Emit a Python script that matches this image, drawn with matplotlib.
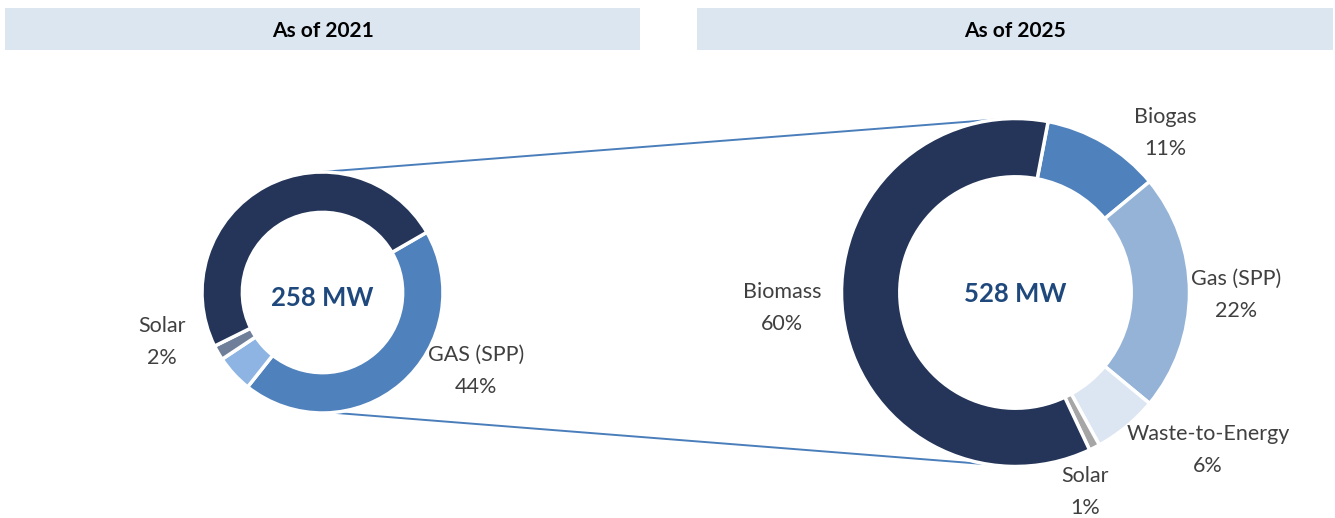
import numpy as np
import matplotlib
matplotlib.use("Agg")
import matplotlib.pyplot as plt
from matplotlib.patches import Rectangle

# ---------------- data ----------------
titles = ["As of 2021", "As of 2025"]
totals = ["258 MW", "528 MW"]

labels_2021 = ["GAS (SPP)", "Biogas", "Solar", "Biomass"]
values_2021 = [44, 5, 2, 49]
colors_2021 = ["#4F81BD", "#8DB4E2", "#6F7F99", "#243559"]
show_2021 = [True, False, True, False]

labels_2025 = ["Biogas", "Gas (SPP)", "Waste-to-Energy", "Solar", "Biomass"]
values_2025 = [11, 22, 6, 1, 60]
colors_2025 = ["#4F81BD", "#95B3D7", "#DCE6F2", "#A6A6A6", "#243559"]

# ---------------- layout (pixel space) ----------------
W, H = 1335, 518
fig = plt.figure(figsize=(W / 100, H / 100), dpi=100)
ax = fig.add_axes([0, 0, 1, 1])

def py(y):  # convert from top-based pixel to data y
    return H - y

c1, r1, start1 = (322.5, py(292.5)), 120.5, 30.0
c2, r2, start2 = (1015.5, py(292.5)), 174.0, 79.2
ring = 0.335

FONT = "Lato"
label_col = "#404040"
LFS = 15.5
LSP = 1.78

# connector lines (tangent-like points on outer circles)
def pt(c, r, ang):
    a = np.deg2rad(ang)
    return c[0] + r * np.cos(a), c[1] + r * np.sin(a)

p1 = pt(c1, r1, 98); p2 = pt(c2, r2, 93)
q1 = pt(c1, r1, -85.5); q2 = pt(c2, r2, -90)
for a, b in [(p1, p2), (q1, q2)]:
    ax.plot([a[0], b[0]], [a[1], b[1]], color="#4A7EBB", lw=1.4, zorder=1,
            solid_capstyle="butt")

wp1 = dict(width=r1 * ring, edgecolor="white", linewidth=2.5)
wp2 = dict(width=r2 * ring, edgecolor="white", linewidth=2.5)
w1, _ = ax.pie(values_2021, colors=colors_2021, startangle=start1, counterclock=False,
               center=c1, radius=r1, wedgeprops=wp1)
w2, _ = ax.pie(values_2025, colors=colors_2025, startangle=start2, counterclock=False,
               center=c2, radius=r2, wedgeprops=wp2)
for w in list(w1) + list(w2):
    w.set_zorder(2)

ax.set_xlim(0, W)
ax.set_ylim(0, H)
ax.set_aspect("equal")
ax.axis("off")

# header boxes
for (x0, x1), t in zip([(5, 640), (697, 1333)], titles):
    ax.add_patch(Rectangle((x0, py(50)), x1 - x0, 42, facecolor="#DCE6F1",
                           edgecolor="none", zorder=0))
    ax.text((x0 + x1) / 2, py(31), t, ha="center", va="center", fontsize=15,
            fontweight="bold", family=FONT, color="black")

# center totals
for c, t, ty in zip([c1, c2], totals, [298.5, 294.5]):
    ax.text(c[0], py(ty), t, ha="center", va="center", fontsize=18.5,
            fontweight="bold", family=FONT, color="#1F497D", zorder=3)

# data labels
pos_2021 = {"GAS (SPP)": (476, 371), "Solar": (162, 342)}
for lab, v, s in zip(labels_2021, values_2021, show_2021):
    if s:
        x, y = pos_2021[lab]
        ax.text(x, py(y), f"{lab}\n{v}%", ha="center", va="center", fontsize=LFS,
                family=FONT, color=label_col, linespacing=LSP)

pos_2025 = {"Biogas": (1165, 133), "Gas (SPP)": (1236, 295), "Waste-to-Energy": (1208, 450),
            "Solar": (1085, 492), "Biomass": (782, 308)}
for lab, v in zip(labels_2025, values_2025):
    x, y = pos_2025[lab]
    ax.text(x, py(y), f"{lab}\n{v}%", ha="center", va="center", fontsize=LFS,
            family=FONT, color=label_col, linespacing=LSP)

fig.savefig("out.png", dpi=100, facecolor="white")
